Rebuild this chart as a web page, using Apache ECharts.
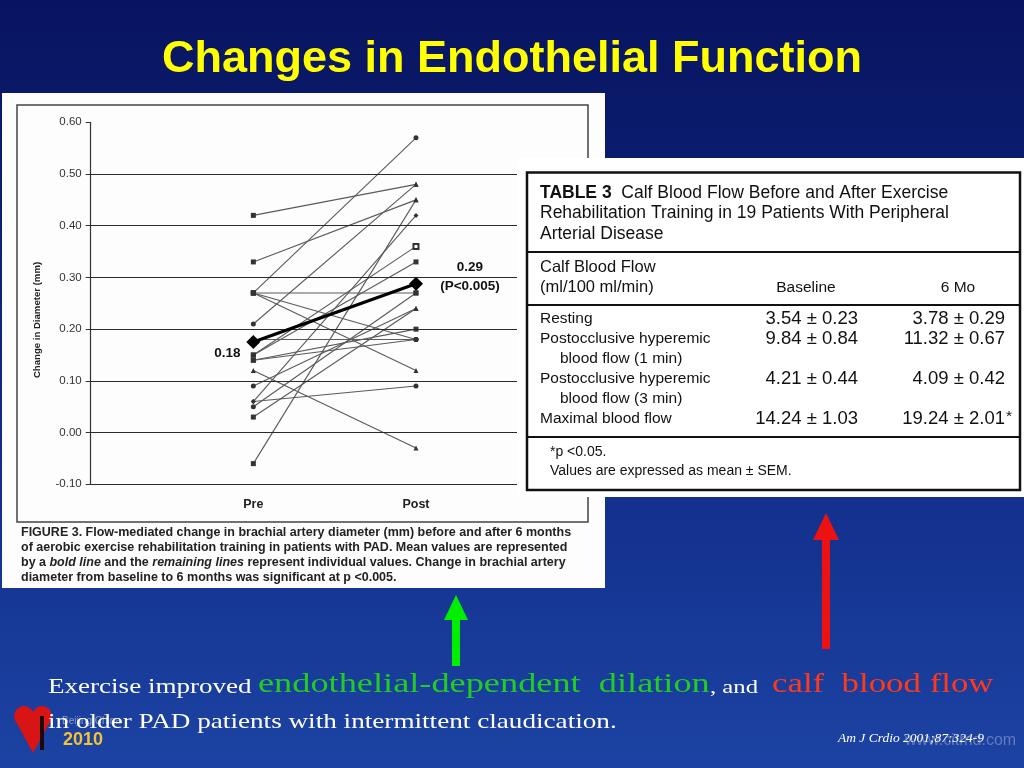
<!DOCTYPE html>
<html>
<head>
<meta charset="utf-8">
<script src="https://cdn.jsdelivr.net/npm/echarts@6/dist/echarts.min.js"></script>
<style>
html,body{margin:0;padding:0;background:#0a1a6e;}
#chart{width:1024px;height:768px;}
</style>
</head>
<body>
<div id="chart"></div>
<script>
// ---------- DATA ----------
const titleText = 'Changes in Endothelial Function';
const xCats = ['Pre', 'Post'];
const yTicks = [-0.1, 0, 0.1, 0.2, 0.3, 0.4, 0.5, 0.6];
const gridValues = [0.5, 0.4, 0.3, 0.2, 0.1, 0.0, -0.1];
const yTitle = 'Change in Diameter (mm)';
// individual patients (19)
const preVals  = [0.42, 0.33, 0.27, 0.27, 0.27, 0.27, 0.21, 0.18, 0.15, 0.14, 0.12, 0.09, 0.06, 0.06, 0.05, 0.03, -0.06, 0.15, 0.14];
const postVals = [0.48, 0.45, 0.57, 0.27, 0.18, 0.12, 0.48, 0.18, 0.36, 0.20, -0.03, 0.24, 0.42, 0.09, 0.27, 0.24, 0.45, 0.33, 0.18];
const preSyms  = ['rect','rect','rect','rect','rect','rect','circle','circle','rect','rect','triangle','circle','diamond','diamond','circle','rect','rect','rect','rect'];
const postSyms = ['triangle','triangle','circle','rect','circle','triangle','triangle','circle','emptyRect','rect','triangle','triangle','diamond','circle','rect','triangle','triangle','rect','circle'];
const meanVals = [0.175, 0.288];
const meanLabels = ['0.18', '0.29\n(P<0.005)'];
const captionLines = [
  'FIGURE 3. Flow-mediated change in brachial artery diameter (mm) before and after 6 months',
  'of aerobic exercise rehabilitation training in patients with PAD. Mean values are represented',
  'by a {i|bold line} and the {i|remaining lines} represent individual values. Change in brachial artery',
  'diameter from baseline to 6 months was significant at p <0.005.'
];
// table
const tableTitle = ['{b|TABLE 3}  Calf Blood Flow Before and After Exercise', 'Rehabilitation Training in 19 Patients With Peripheral', 'Arterial Disease'];
const tableHead = ['Calf Blood Flow', '(ml/100 ml/min)', 'Baseline', '6 Mo'];
const rowLabels = [['Resting'], ['Postocclusive hyperemic', 'blood flow (1 min)'], ['Postocclusive hyperemic', 'blood flow (3 min)'], ['Maximal blood flow']];
const baselineVals = ['3.54 ± 0.23', '9.84 ± 0.84', '4.21 ± 0.44', '14.24 ± 1.03'];
const sixMoVals = ['3.78 ± 0.29', '11.32 ± 0.67', '4.09 ± 0.42', '19.24 ± 2.01'];
const sixMoSig = ['', '', '', '*'];
const footnotes = ['*p <0.05.', 'Values are expressed as mean ± SEM.'];
// bottom text
const bottomLine1 = ['Exercise improved', 'endothelial-dependent  dilation', ', and', 'calf  blood flow'];
const bottomLine2 = 'in older PAD patients with intermittent claudication.';
const citation = 'Am J Crdio 2001;87:324-9';
const watermark = 'www.citmd.com';

// ---------- BUILD ----------
const chart = echarts.init(document.getElementById('chart'));

function txt(text, x, y, font, fill, align, z, extra, sx) {
  return {
    type: 'text', z: z || 10, silent: true,
    x: x, y: y, scaleX: sx || 1,
    style: Object.assign({
      text: text, x: 0, y: 0, font: font, fill: fill,
      textAlign: align || 'left', textVerticalAlign: 'middle'
    }, extra || {})
  };
}

const series = [];
for (let i = 0; i < preVals.length; i++) {
  series.push({
    type: 'line', z: 3, silent: true,
    lineStyle: { color: '#5a5a5a', width: 1.1 },
    itemStyle: { color: '#333' },
    symbolSize: 5,
    data: [
      { value: [0, preVals[i]], symbol: preSyms[i] },
      { value: [1, postVals[i]], symbol: postSyms[i] }
    ],
    animation: false
  });
}
// gridlines (markLine)
series.push({
  type: 'line', data: [], silent: true,
  markLine: {
    silent: true, symbol: 'none', animation: false,
    label: { show: false },
    lineStyle: { color: '#2a2a2a', width: 1.2, type: 'solid' },
    data: gridValues.map(v => ({ yAxis: v }))
  }
});
// mean
series.push({
  type: 'line', z: 5, silent: true, animation: false,
  lineStyle: { color: '#000', width: 3.2 },
  itemStyle: { color: '#000' },
  symbol: 'diamond', symbolSize: 14,
  data: meanVals.map((v, i) => ({
    value: [i, v],
    label: {
      show: true, formatter: meanLabels[i],
      position: i === 0 ? [-19, 18] : [61, 0],
      align: 'center', verticalAlign: 'middle',
      fontFamily: 'Liberation Sans, Arial', fontWeight: 'bold', fontSize: 13.5,
      color: '#111', lineHeight: 19
    }
  }))
});

const graphic = [];
// background
graphic.push({
  type: 'rect', z: -100, silent: true,
  shape: { x: 0, y: 0, width: 1024, height: 768 },
  style: { fill: new echarts.graphic.LinearGradient(0, 0, 0, 1, [
    { offset: 0, color: '#08145f' },
    { offset: 0.45, color: '#0e2580' },
    { offset: 1, color: '#1c43a3' }
  ]) }
});
// title
graphic.push(txt(titleText, 512, 60, 'bold 45px "Liberation Sans", Arial', '#ffff00', 'center', 10));
// left white panel
graphic.push({ type: 'rect', z: -50, silent: true, shape: { x: 2, y: 93, width: 603, height: 495 }, style: { fill: '#fdfdfd' } });
graphic.push({ type: 'rect', z: -40, silent: true, shape: { x: 17, y: 105, width: 571, height: 417 }, style: { fill: 'none', stroke: '#444', lineWidth: 1.5 } });
// caption
captionLines.forEach((l, i) => {
  graphic.push(txt(l, 21, 533 + i * 14.7, 'bold 12.5px "Liberation Sans", Arial', '#222', 'left', 10, {
    rich: { i: { fontStyle: 'italic', fontWeight: 'bold', fontSize: 12.5, fontFamily: 'Liberation Sans, Arial', fill: '#222' } }
  }));
});
// y title
graphic.push({
  type: 'text', z: 10, x: 37, y: 320, rotation: Math.PI / 2, silent: true,
  style: { text: yTitle, x: 0, y: 0, font: 'bold 9.6px "Liberation Sans", Arial', fill: '#222', textAlign: 'center', textVerticalAlign: 'middle' }
});

// table panel
const TZ = 60;
graphic.push({ type: 'rect', z: TZ, silent: true, shape: { x: 517, y: 158, width: 507, height: 339 }, style: { fill: '#ffffff' } });
graphic.push({ type: 'rect', z: TZ + 1, silent: true, shape: { x: 527, y: 172.5, width: 493, height: 317.5 }, style: { fill: 'none', stroke: '#111', lineWidth: 2.5 } });
[252, 305, 437].forEach(y => graphic.push({ type: 'line', z: TZ + 1, silent: true, shape: { x1: 527, y1: y, x2: 1020, y2: y }, style: { stroke: '#111', lineWidth: 2 } }));
const TT = '17.5px "Liberation Sans", Arial';
const TF = '15.5px "Liberation Sans", Arial';
const TH = '16.5px "Liberation Sans", Arial';
const TN = '18.5px "Liberation Sans", Arial';
const richB = { b: { fontWeight: 'bold', fontSize: 17.5, fontFamily: 'Liberation Sans, Arial', fill: '#111' } };
tableTitle.forEach((t, i) => graphic.push(txt(t, 540, 193 + i * 20.5, TT, '#111', 'left', TZ + 2, { rich: richB })));
graphic.push(txt(tableHead[0], 540, 267, TH, '#111', 'left', TZ + 2));
graphic.push(txt(tableHead[1], 540, 287.5, TH, '#111', 'left', TZ + 2));
graphic.push(txt(tableHead[2], 806, 287.5, TF, '#111', 'center', TZ + 2));
graphic.push(txt(tableHead[3], 958, 287.5, TF, '#111', 'center', TZ + 2));
let ry = 318.5;
rowLabels.forEach((lab, i) => {
  graphic.push(txt(lab[0], 540, ry, TF, '#111', 'left', TZ + 2));
  graphic.push(txt(baselineVals[i], 858, ry, TN, '#111', 'right', TZ + 2));
  graphic.push(txt(sixMoVals[i], 1005, ry, TN, '#111', 'right', TZ + 2));
  if (sixMoSig[i]) graphic.push(txt(sixMoSig[i], 1006, ry - 2, TF, '#111', 'left', TZ + 2));
  if (lab[1]) { ry += 20.1; graphic.push(txt(lab[1], 560, ry, TF, '#111', 'left', TZ + 2)); }
  ry += 20.1;
});
graphic.push(txt(footnotes[0], 550, 452, '14px "Liberation Sans", Arial', '#111', 'left', TZ + 2));
graphic.push(txt(footnotes[1], 550, 471, '14px "Liberation Sans", Arial', '#111', 'left', TZ + 2));

// arrows
graphic.push({ type: 'polygon', z: 20, silent: true, shape: { points: [[456, 595], [468, 620], [460, 620], [460, 666], [452, 666], [452, 620], [444, 620]] }, style: { fill: '#00ee00' } });
graphic.push({ type: 'polygon', z: 20, silent: true, shape: { points: [[826, 513], [839, 540], [830, 540], [830, 649], [822, 649], [822, 540], [813, 540]] }, style: { fill: '#ee1111' } });

// logo (heart from two circles and a triangle)
graphic.push({ type: 'circle', z: 12, silent: true, shape: { cx: 24, cy: 716, r: 10 }, style: { fill: '#d91414' } });
graphic.push({ type: 'circle', z: 12, silent: true, shape: { cx: 42, cy: 716, r: 10 }, style: { fill: '#d91414' } });
graphic.push({ type: 'polygon', z: 12, silent: true, shape: { points: [[14.5, 719], [51.5, 719], [33, 753]] }, style: { fill: '#d91414' } });
graphic.push({ type: 'rect', z: 13, silent: true, shape: { x: 40, y: 716, width: 4, height: 34 }, style: { fill: '#1a0a0a' } });
graphic.push(txt('Beijing China', 62, 721, '10px "Liberation Sans", Arial', '#8d9cc8', 'left', 12));
graphic.push(txt('2010', 63, 740, 'bold 18px "Liberation Sans", Arial', '#f2c23a', 'left', 12));
// watermark
graphic.push(txt(watermark, 905, 741, '16px "Liberation Sans", Arial', 'rgba(170,180,215,0.5)', 'left', 11));

// bottom text (horizontally stretched serif like the slide)
const SF = '"Liberation Serif", "Times New Roman"';
graphic.push(txt(bottomLine1[0], 48, 687, '22px ' + SF, '#ffffff', 'left', 15, null, 1.23));
graphic.push(txt(bottomLine1[1], 258, 685, '27px ' + SF, '#22cc22', 'left', 15, null, 1.345));
graphic.push(txt(bottomLine1[2], 710, 688, '19px ' + SF, '#ffffff', 'left', 15, null, 1.3));
graphic.push(txt(bottomLine1[3], 772, 685, '27px ' + SF, '#ff3a1a', 'left', 15, null, 1.29));
graphic.push(txt(bottomLine2, 48, 722, '22px ' + SF, '#ffffff', 'left', 15, null, 1.235));
graphic.push(txt(citation, 838, 738, 'italic 13.5px ' + SF, '#ffffff', 'left', 16));

const option = {
  animation: false,
  backgroundColor: 'transparent',
  grid: { left: 90.7, top: 122.3, right: 434, bottom: 283.7, containLabel: false },
  xAxis: {
    type: 'value', min: -1, max: 2.07, interval: 1,
    axisLine: { show: false, onZero: false }, axisTick: { show: false }, splitLine: { show: false },
    axisLabel: {
      margin: 14, color: '#222', fontFamily: 'Liberation Sans, Arial', fontWeight: 'bold', fontSize: 12.5,
      showMaxLabel: false,
      formatter: v => (Math.abs(v) < 1e-9 ? xCats[0] : Math.abs(v - 1) < 1e-9 ? xCats[1] : '')
    }
  },
  yAxis: {
    type: 'value', min: yTicks[0], max: yTicks[yTicks.length - 1], interval: 0.1,
    axisLine: { show: true, onZero: false, lineStyle: { color: '#333', width: 1.2 } },
    axisTick: { show: true, length: 5, lineStyle: { color: '#333' } },
    splitLine: { show: false },
    axisLabel: { margin: 9, color: '#333', fontFamily: 'Liberation Sans, Arial', fontSize: 11.5, formatter: v => v.toFixed(2) }
  },
  graphic: graphic,
  series: series
};
chart.setOption(option);
</script>
</body>
</html>
